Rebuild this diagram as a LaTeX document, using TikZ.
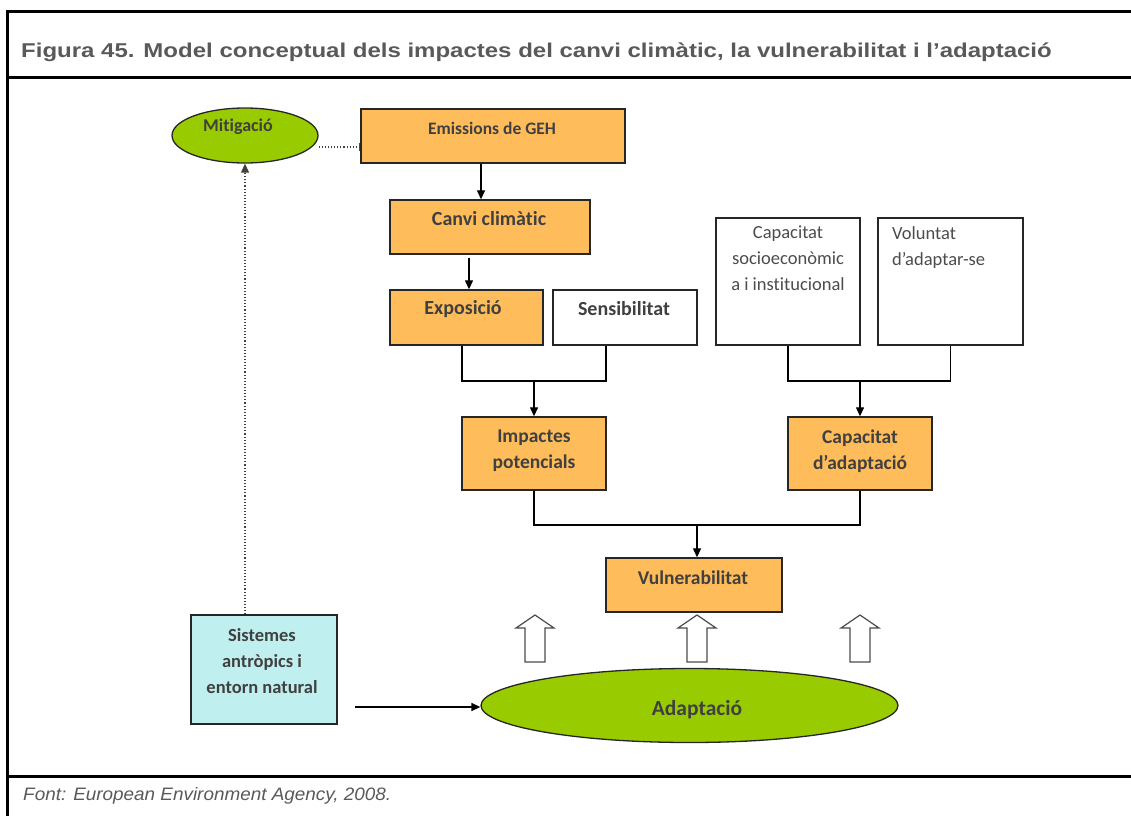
\documentclass[tikz,border=0pt]{standalone}
\usepackage{fontspec}
\setmainfont{Liberation Sans}
\newfontfamily\calfont[Ligatures=NoCommon]{Carlito}
\usetikzlibrary{arrows.meta,shapes.geometric}
\definecolor{ob}{HTML}{FFBC5A}
\definecolor{gr}{HTML}{99CC00}
\definecolor{cy}{HTML}{BFEFEE}
\definecolor{tg}{HTML}{595959}
\definecolor{dg}{HTML}{404040}
\begin{document}
\begin{tikzpicture}[x=1pt,y=-1pt,
  box/.style={draw=black!85,line width=1.4pt,inner sep=0pt},
  obox/.style={box,fill=ob},
  wbox/.style={box,fill=white},
  ell/.style={draw=black!85,line width=1.3pt,fill=gr,ellipse,inner sep=0pt},
  txt/.style={font=\calfont\bfseries\fontsize{#1}{26}\selectfont,text=dg,align=center,inner sep=0pt},
  txt/.default=18,
  ntxt/.style={font=\calfont\fontsize{18.5}{26}\selectfont,text=black!70,inner sep=0pt},
  con/.style={line width=1.3pt,draw=black},
  arr/.style={con,-{Triangle[length=9pt,width=8pt]}},
  dot/.style={line width=1.1pt,draw=black!75,dotted},
  hol/.style={draw=black!70,line width=1.2pt,fill=white}
]
\useasboundingbox (0,0) rectangle (1131,816);
% frame
\draw[line width=3pt] (1131,12) -- (7,12) -- (7,816);
\draw[line width=3pt] (7,77) -- (1131,77);
\draw[line width=3pt] (7,776) -- (1131,776);
\node[anchor=west,font=\bfseries\fontsize{20}{22}\selectfont,text=tg,inner sep=0pt,xscale=1.2] (title) at (21,52)
  {Figura 45. Model conceptual dels impactes del canvi climàtic, la vulnerabilitat i l’adaptació};
\node[anchor=west,font=\itshape\fontsize{18}{20}\selectfont,text=tg,inner sep=0pt,xscale=1.05] (font) at (23,796)
  {Font: European Environment Agency, 2008.};

% nodes
\node[ell,minimum width=146pt,minimum height=55pt] (mit) at (245,135.5) {};
\node[txt=18] (mitT) at (238,127) {Mitigació};
\node[obox,minimum width=264pt,minimum height=54pt] (emis) at (493,136) {};
\node[txt=17.5] (emisT) at (492,128) {Emissions de GEH};
\node[obox,minimum width=200pt,minimum height=54pt] (canvi) at (490,227) {};
\node[txt=20] (canviT) at (489,219) {Canvi climàtic};
\node[obox,minimum width=153pt,minimum height=55pt] (expo) at (466.5,317.5) {};
\node[txt=20] (expoT) at (463,309) {Exposició};
\node[wbox,minimum width=144pt,minimum height=55pt] (sens) at (625,317.5) {};
\node[txt=20] (sensT) at (624,309) {Sensibilitat};
\node[wbox,minimum width=144pt,minimum height=127pt] (capsoc) at (788,281.5) {};
\node[ntxt,align=center,anchor=north] (capsocT) at (788,226) {Capacitat\\socioeconòmic\\a i institucional};
\node[wbox,minimum width=145pt,minimum height=127pt] (vol) at (950.5,281.5) {};
\node[ntxt,align=left,anchor=north west] (volT) at (892,226) {Voluntat\\d’adaptar-se};
\node[obox,minimum width=144pt,minimum height=73pt] (imp) at (534,453.5) {};
\node[txt=19.5] (impT) at (534,451) {Impactes\\potencials};
\node[obox,minimum width=144pt,minimum height=73pt] (capad) at (860,453.5) {};
\node[txt=19.5] (capadT) at (860,451) {Capacitat\\d’adaptació};
\node[obox,minimum width=176pt,minimum height=54pt] (vul) at (694,585) {};
\node[txt=19.5] (vulT) at (693,578) {Vulnerabilitat};
\node[box,fill=cy,minimum width=146pt,minimum height=109pt] (sis) at (264,669.5) {};
\node[txt=18.5] (sisT) at (262,661) {Sistemes\\antròpics i\\entorn natural};
\node[ell,minimum width=417pt,minimum height=74pt] (adap) at (689.5,705.5) {};
\node[txt=21.5] (adapT) at (697,710) {Adaptació};

% connectors
\draw[dot] (mit.east |- 0,147) -- (emis.west |- 0,147);
\draw[line width=1pt,black!70] ([xshift=-1pt]emis.west |- 0,143) -- ([xshift=-1pt]emis.west |- 0,151);
\draw[dot,-{Triangle[length=9pt,width=8pt]}] (sis.north -| mit.south) -- (mit.south);
\draw[arr] (emis.south -| 481,0) -- (canvi.north -| 481,0);
\draw[arr] ([yshift=-3pt]canvi.south -| 469,0) -- (expo.north -| 469,0);
\coordinate (j1) at (534,381);
\draw[con] (expo.south -| 462,0) |- (j1) -| (sens.south -| 606,0);
\draw[arr] (j1) -- (imp.north -| j1);
\coordinate (j2) at (860,381);
\draw[con] (capsoc.south) |- (j2) -| (vol.south);
\draw[arr] (j2) -- (capad.north);
\coordinate (j3) at (697,525);
\draw[con] (imp.south) |- (j3) -| (capad.south);
\draw[arr] (j3) -- (vul.north -| j3);
\coordinate (sa) at (355,707);
\draw[arr] (sa) -- (adap.west |- sa);

% hollow arrows
\foreach \cx/\nm in {535/ha, 697/hb, 860/hc}{
  \draw[hol] (\cx-10,662) -- (\cx-10,628) -- (\cx-19,628) -- (\cx,615) -- (\cx+19,628) -- (\cx+10,628) -- (\cx+10,662) -- cycle;
}
\end{tikzpicture}
\end{document}
